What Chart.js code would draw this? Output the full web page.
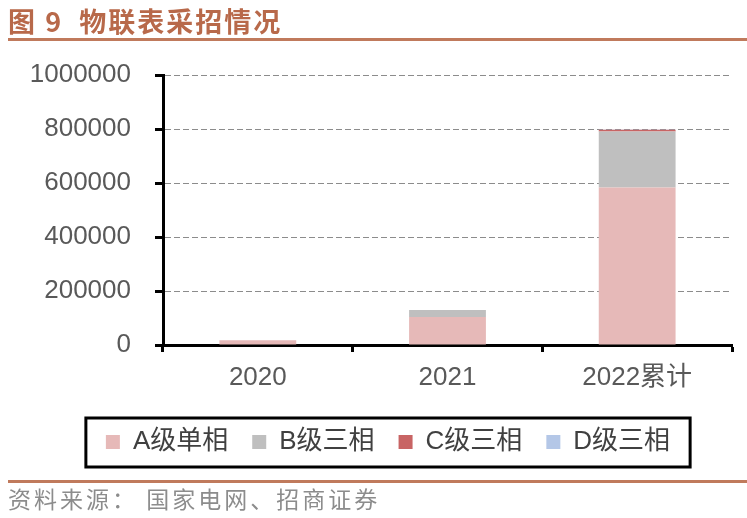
<!DOCTYPE html>
<html>
<head>
<meta charset="utf-8">
<script src="https://cdn.jsdelivr.net/npm/chart.js@4"></script>
<style>
  html, body { margin: 0; padding: 0; background: #fff; }
  #wrap { position: relative; width: 747px; height: 518px; overflow: hidden; }
  #c { position: absolute; left: 0; top: 0; }
  .title { position: absolute; left: 8px; top: 1px; font-family: "Noto Sans CJK SC", sans-serif; font-weight: bold; font-size: 27px; color: #B8694A; letter-spacing: 2px; white-space: pre; }
  .rule { position: absolute; left: 8px; width: 739px; height: 3px; background: #C07A5C; }
  .source { position: absolute; left: 8px; top: 481px; font-family: "Noto Sans CJK SC", sans-serif; font-size: 23px; color: #8C8C8C; letter-spacing: 3px; white-space: pre; }
</style>
</head>
<body>
<div id="wrap">
  <canvas id="c" width="747" height="518"></canvas>
  <div class="title">图 9  物联表采招情况</div>
  <div class="rule" style="top:38px"></div>
  <div class="rule" style="top:480px"></div>
  <div class="source">资料来源： 国家电网、招商证券</div>
</div>
<script>
const categories = ['2020', '2021', '2022累计'];
const seriesNames = ['A级单相', 'B级三相', 'C级三相', 'D级三相'];
const seriesA = [18000, 104000, 583000];
const seriesB = [0, 26000, 208000];
const seriesC = [0, 0, 6000];
const seriesD = [0, 0, 1000];
const yTicks = [0, 200000, 400000, 600000, 800000, 1000000];

const colors = ['#E6B9B8', '#BFBFBF', '#C86464', '#B4C7E7'];
const FONT = "'Liberation Sans', 'Noto Sans CJK SC', Arial, sans-serif";

const legendBox = {
  id: 'legendBox',
  afterLayout(chart) {
    const lg = chart.legend;
    if (lg) { lg.left += 22; lg.right += 22; }
  },
  afterDraw(chart) {
    const lg = chart.legend;
    if (!lg || !lg.legendHitBoxes || !lg.legendHitBoxes.length) return;
    const hb = lg.legendHitBoxes;
    const l = hb[0].left - 20;
    const r = hb[hb.length - 1].left + hb[hb.length - 1].width + 20;
    const cy = hb[0].top + hb[0].height / 2;
    const ctx = chart.ctx;
    ctx.save();
    ctx.strokeStyle = '#000';
    ctx.lineWidth = 3;
    ctx.strokeRect(l, cy - 24, r - l, 49);
    ctx.restore();
  }
};

new Chart(document.getElementById('c'), {
  type: 'bar',
  data: {
    labels: categories,
    datasets: [
      { label: seriesNames[0], data: seriesA, backgroundColor: colors[0] },
      { label: seriesNames[1], data: seriesB, backgroundColor: colors[1] },
      { label: seriesNames[2], data: seriesC, backgroundColor: colors[2] },
      { label: seriesNames[3], data: seriesD, backgroundColor: colors[3] }
    ]
  },
  options: {
    responsive: false,
    animation: false,
    devicePixelRatio: 1,
    layout: { padding: { left: 0, right: 15, top: 75, bottom: 53 } },
    datasets: { bar: { categoryPercentage: 1, barPercentage: 0.405, borderWidth: 0 } },
    plugins: {
      tooltip: { enabled: false },
      legend: {
        position: 'bottom',
        labels: {
          boxWidth: 14, boxHeight: 14, padding: 24,
          color: '#404040',
          font: { family: FONT, size: 26 }
        }
      }
    },
    scales: {
      x: {
        stacked: true,
        grid: { display: true, drawOnChartArea: false, drawTicks: true, tickLength: 7, tickColor: '#000', tickWidth: 3, offset: true },
        border: { display: true, color: '#000', width: 3 },
        ticks: { color: '#595959', font: { family: FONT, size: 26 }, padding: 10 },
        afterFit(s) { s.height = 60; }
      },
      y: {
        stacked: true,
        min: 0, max: 1000000,
        afterBuildTicks(s) { s.ticks = yTicks.map(v => ({ value: v })); },
        grid: { color: (ctx) => ctx.tick && ctx.tick.value === 0 ? 'rgba(0,0,0,0)' : '#8C8C8C', lineWidth: 1, tickLength: 8, tickColor: '#000', tickWidth: 3, drawTicks: true },
        border: { display: true, color: '#000', width: 3, dash: [6, 3] },
        ticks: { color: '#595959', font: { family: FONT, size: 26 }, padding: 24, callback: (v) => String(v) },
        afterFit(s) { s.width = 163; }
      }
    }
  },
  plugins: [legendBox]
});
</script>
</body>
</html>
